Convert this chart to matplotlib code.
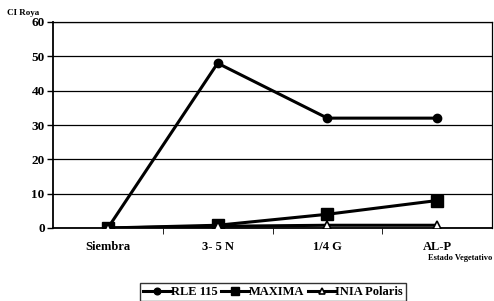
import matplotlib
matplotlib.use("Agg")
import matplotlib.pyplot as plt
import numpy as np

categories = ["Siembra", "3- 5 N", "1/4 G", "AL-P"]
rle115 = [0, 48, 32, 32]
maxima = [0, 0.8, 4, 8]
polaris = [0, 0.5, 0.8, 0.8]
yticks = [0, 10, 20, 30, 40, 50, 60]

plt.rcParams['font.family'] = ['Liberation Serif', 'DejaVu Serif']
plt.rcParams['font.weight'] = 'bold'

fig = plt.figure(figsize=(4.94, 3.01), dpi=100)
ax = fig.add_axes([53/494, 1-228/301, 439/494, 206/301])

x = np.arange(len(categories))
ax.plot(x, rle115, color='black', lw=2.2, marker='o', ms=6, label='RLE 115', zorder=5)
ax.plot(x, maxima, color='black', lw=2.2, marker='s', ms=8, label='MAXIMA', zorder=4)
ax.plot(x, polaris, color='black', lw=2.2, marker='^', ms=6, mfc='white', mew=1.2, label='INIA Polaris', zorder=6)

ax.set_xlim(-0.5, 3.5)
ax.set_ylim(0, 60)
ax.set_yticks(yticks)
ax.set_yticklabels([str(v) for v in yticks], fontsize=9.5, fontweight='bold')
ax.yaxis.grid(True, color='black', lw=0.9)
ax.set_axisbelow(True)
ax.set_xticks(x)
ax.set_xticklabels(categories, fontsize=9, fontweight='bold')
ax.tick_params(axis='x', length=0, pad=9)
ax.set_xticks([0.5, 1.5, 2.5], minor=True)
ax.tick_params(axis='x', which='minor', length=4, direction='out', color='black')
ax.tick_params(axis='y', length=4, direction='out', width=1, pad=2)
for s in ['left', 'bottom']:
    ax.spines[s].set_linewidth(1.3)
for s in ['top', 'right']:
    ax.spines[s].set_linewidth(0.9)

fig.text(7/494, 1-13/301, "CI Roya", fontsize=6.5, fontweight='bold', va='center', ha='left')
fig.text(492/494, 1-258/301, "Estado Vegetativo", fontsize=6, fontweight='bold', va='center', ha='right')

leg = fig.legend(loc='upper left', bbox_to_anchor=(140/494, 1-283/301), ncol=3,
                 fontsize=9, frameon=True, fancybox=False, edgecolor='black',
                 handlelength=2.2, handletextpad=0.0, columnspacing=0.3,
                 borderpad=0.25, borderaxespad=0, markerscale=0.8)
leg.get_frame().set_linewidth(1.0)
for t in leg.get_texts():
    t.set_fontweight('bold')

fig.savefig("out.png", dpi=100)
